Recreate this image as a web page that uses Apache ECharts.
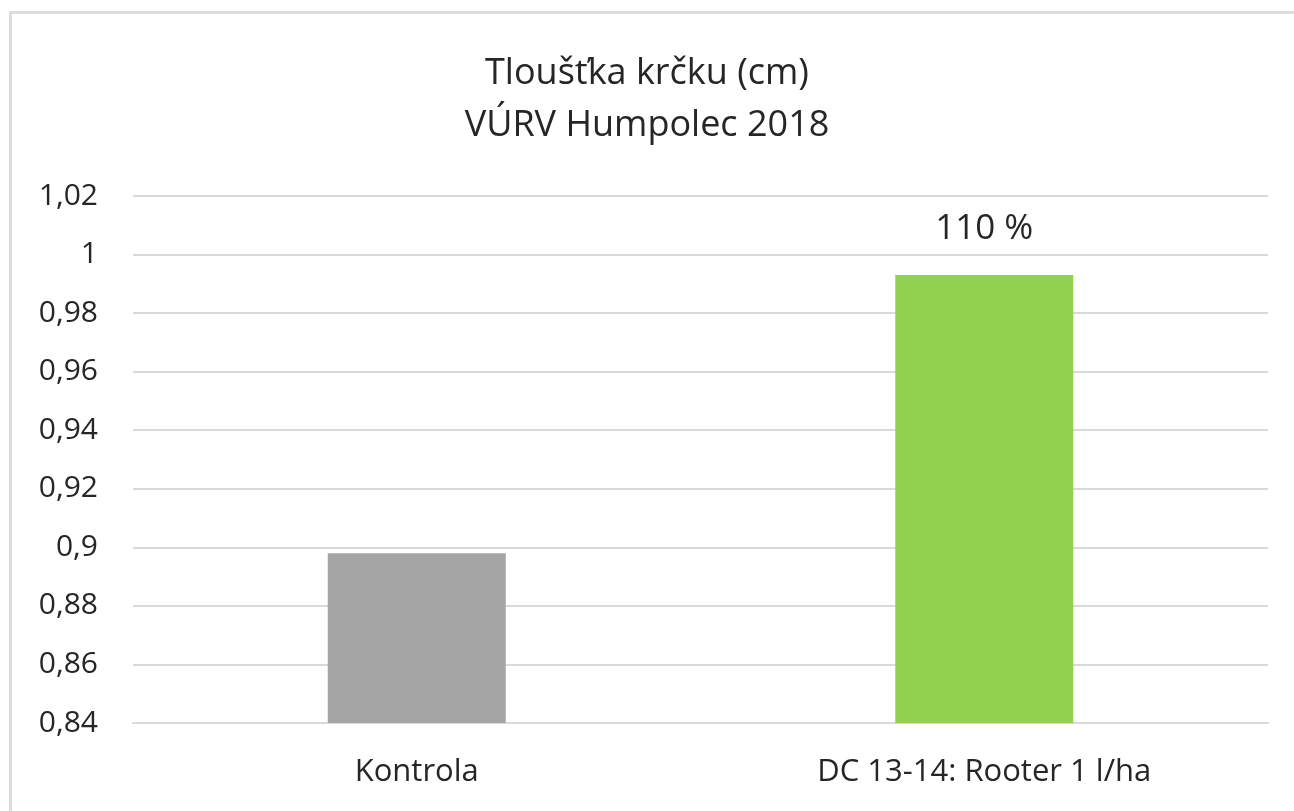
<!DOCTYPE html>
<html>
<head>
<meta charset="utf-8">
<script src="https://cdn.jsdelivr.net/npm/echarts@6/dist/echarts.min.js"></script>
<style>
html,body{margin:0;padding:0;background:#fff;}
#frame{position:absolute;left:9px;top:11px;width:1285px;height:800px;border-left:3px solid #dcdcdc;border-top:3px solid #dcdcdc;box-sizing:border-box;}
#chart{position:absolute;left:0;top:0;width:1294px;height:811px;}
</style>
</head>
<body>
<div id="frame"></div>
<div id="chart"></div>
<script>
const titleLines = ['Tloušťka krčku (cm)', 'VÚRV Humpolec 2018'];
const categories = ['Kontrola', 'DC 13-14: Rooter 1 l/ha'];
const values = [0.898, 0.993];
const barColors = ['#a5a5a5', '#92d050'];
const barLabels = ['', '110 %'];
const yMin = 0.84, yMax = 1.02, yStep = 0.02;

const FONT = 'Open Sans';
const chart = echarts.init(document.getElementById('chart'), null, {renderer: 'canvas'});
chart.setOption({
  backgroundColor: 'transparent',
  animation: false,
  title: {
    text: titleLines.join('\n'),
    left: 'center',
    top: 43,
    textStyle: {fontFamily: FONT, fontSize: 36, fontWeight: 'normal', color: '#262626', lineHeight: 52}
  },
  grid: {left: 133, right: 26, top: 196, bottom: 88, containLabel: false},
  xAxis: {
    type: 'category',
    data: categories,
    axisLine: {show: true, lineStyle: {color: '#d9d9d9', width: 2}},
    axisTick: {show: false},
    axisLabel: {fontFamily: FONT, fontSize: 31, color: '#262626', margin: 34}
  },
  yAxis: {
    type: 'value',
    min: yMin, max: yMax, interval: yStep,
    axisLine: {show: false},
    axisTick: {show: false},
    splitLine: {lineStyle: {color: '#d9d9d9', width: 2}},
    axisLabel: {
      fontFamily: FONT, fontSize: 30, color: '#262626', margin: 35,
      formatter: v => String(+v.toFixed(2)).replace('.', ',')
    }
  },
  series: [{
    type: 'bar',
    barWidth: 178,
    data: values.map((v, i) => ({
      value: v,
      itemStyle: {color: barColors[i]},
      label: {show: !!barLabels[i], formatter: barLabels[i]}
    })),
    label: {position: 'top', distance: 29, fontFamily: FONT, fontSize: 35, color: '#262626'}
  }]
});
</script>
</body>
</html>
